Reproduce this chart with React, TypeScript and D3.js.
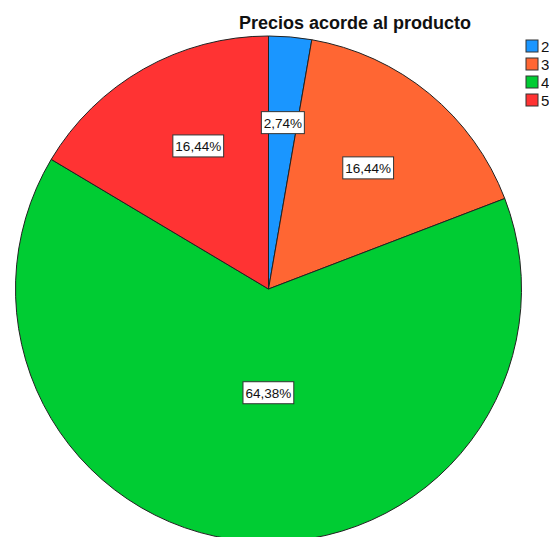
import React from "react";
import * as d3 from "d3";

const title = "Precios acorde al producto";
const categories = ["2", "3", "4", "5"];
const counts = [2, 12, 47, 12];
const percentLabels = ["2,74%", "16,44%", "64,38%", "16,44%"];
const colors = ["#1a96ff", "#ff6633", "#00cc33", "#ff3333"];

const W = 549;
const H = 537;
const cx = 268.5;
const cy = 289;
const R = 253;
// label radius as fraction of R, and angle shift (radians) used by the original layout
const labelRadiusFrac = [0.66, 0.62, 0.41, 0.63];
const labelAngleShift = [0, 0, -0.085, 0.06];

export default function App() {
  const pie = d3.pie<number>().sort(null).value((d) => d)(counts);
  const arc = d3.arc<d3.PieArcDatum<number>>().innerRadius(0).outerRadius(R);

  return (
    <svg
      width={W}
      height={H}
      style={{ position: "absolute", left: 0, top: 0, background: "#fff" }}
      fontFamily="'Liberation Sans', Arial, sans-serif"
    >
      <g transform={`translate(${cx},${cy})`}>
        {pie.map((p, i) => (
          <path key={i} d={arc(p) || ""} fill={colors[i]} stroke="#222" strokeWidth={1} />
        ))}
        {pie.map((p, i) => {
          const a = (p.startAngle + p.endAngle) / 2 + labelAngleShift[i];
          const r = R * labelRadiusFrac[i];
          const x = Math.sin(a) * r;
          const y = -Math.cos(a) * r;
          const w = percentLabels[i].length * 7.8 + 4;
          return (
            <g key={"l" + i} transform={`translate(${x},${y})`}>
              <rect x={-w / 2} y={-11} width={w} height={22} fill="#fff" stroke="#333" strokeWidth={1} />
              <text textAnchor="middle" dy="5" fontSize={13.5} fill="#111">
                {percentLabels[i]}
              </text>
            </g>
          );
        })}
      </g>
      <text x={355} y={29} textAnchor="middle" fontSize={18} fontWeight="bold" fill="#111">
        {title}
      </text>
      {categories.map((c, i) => (
        <g key={"lg" + i} transform={`translate(526,${40 + i * 18})`}>
          <rect x={0} y={0} width={12} height={12} fill={colors[i]} stroke="#333" strokeWidth={1} />
          <text x={15} y={11.5} fontSize={15} fill="#111">
            {c}
          </text>
        </g>
      ))}
    </svg>
  );
}
